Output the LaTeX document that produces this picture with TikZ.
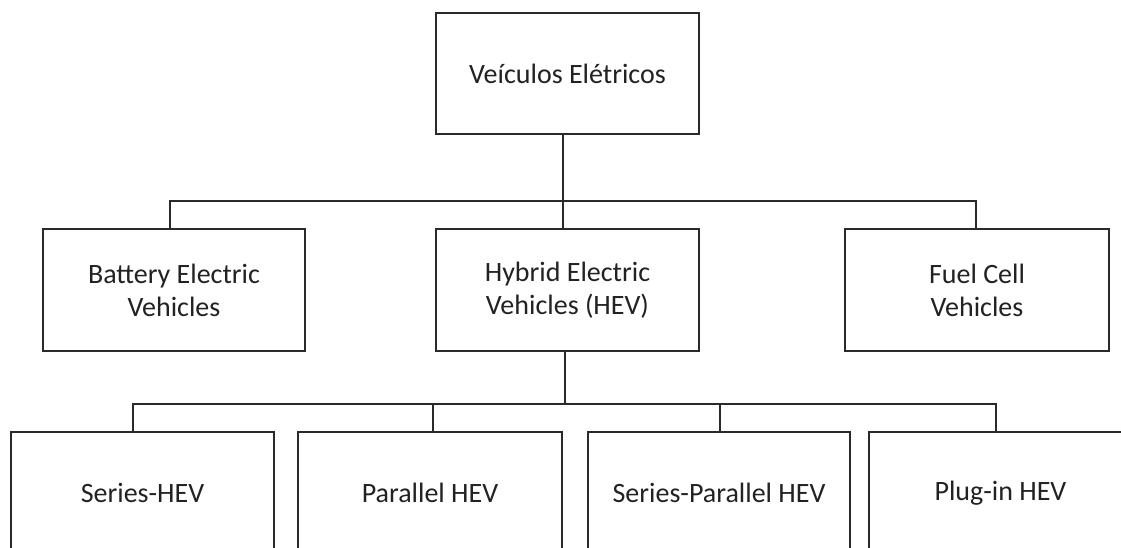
\documentclass[tikz,border=0pt]{standalone}
\usepackage{fontspec}
\setmainfont{Carlito}
\definecolor{linecol}{HTML}{2A2A2A}
\definecolor{textcol}{HTML}{222222}
\begin{document}
\begin{tikzpicture}[x=1pt,y=-1pt,
  box/.style={draw=linecol, line width=1.6pt, rectangle, align=center,
    text=textcol, font=\fontsize{28}{33}\selectfont, inner sep=0pt},
  conn/.style={draw=linecol, line width=1.6pt}]
\useasboundingbox (0,0) rectangle (1121,547);
\fill[white] (0,0) rectangle (1121,547);
\clip (0,0) rectangle (1121,547);
% top
\node[box, minimum width=263pt, minimum height=121pt] (top) at (567.5,73.5) {Veículos Elétricos};
% middle
\node[box, minimum width=262pt, minimum height=122pt] (bat) at (174,290) {Battery Electric\\Vehicles};
\node[box, minimum width=263pt, minimum height=122pt] (hyb) at (567.5,290) {Hybrid Electric\\Vehicles (HEV)};
\node[box, minimum width=264pt, minimum height=122pt] (fuel) at (977,290) {Fuel Cell\\Vehicles};
% bottom
\node[box, minimum width=263pt, minimum height=122pt] (ser) at (142.5,493) {Series-HEV};
\node[box, minimum width=264pt, minimum height=122pt] (par) at (430,493) {Parallel HEV};
\node[box, minimum width=262pt, minimum height=122pt] (sp) at (719,493) {Series-Parallel HEV};
\node[box, minimum width=263pt, minimum height=122pt] (plug) at (1000.5,493) {Plug-in HEV};
% connectors
\coordinate (bus1) at (563,201);
\coordinate (bus2) at (565,404);
\draw[conn] ([xshift=-4.5pt]top.south) -- ([xshift=-4.5pt]hyb.north);
\draw[conn] ([xshift=-4pt]bat.north) |- (bus1) -| ([xshift=-1pt]fuel.north);
\draw[conn] ([xshift=-2.5pt]hyb.south) -- (bus2);
\draw[conn] ([xshift=-9.5pt]ser.north) |- (bus2) -| ([xshift=-4.5pt]plug.north);
\draw[conn] ([xshift=3pt]par.north) -- ([xshift=3pt]par.north |- bus2);
\draw[conn] ([xshift=1pt]sp.north) -- ([xshift=1pt]sp.north |- bus2);
\end{tikzpicture}
\end{document}
